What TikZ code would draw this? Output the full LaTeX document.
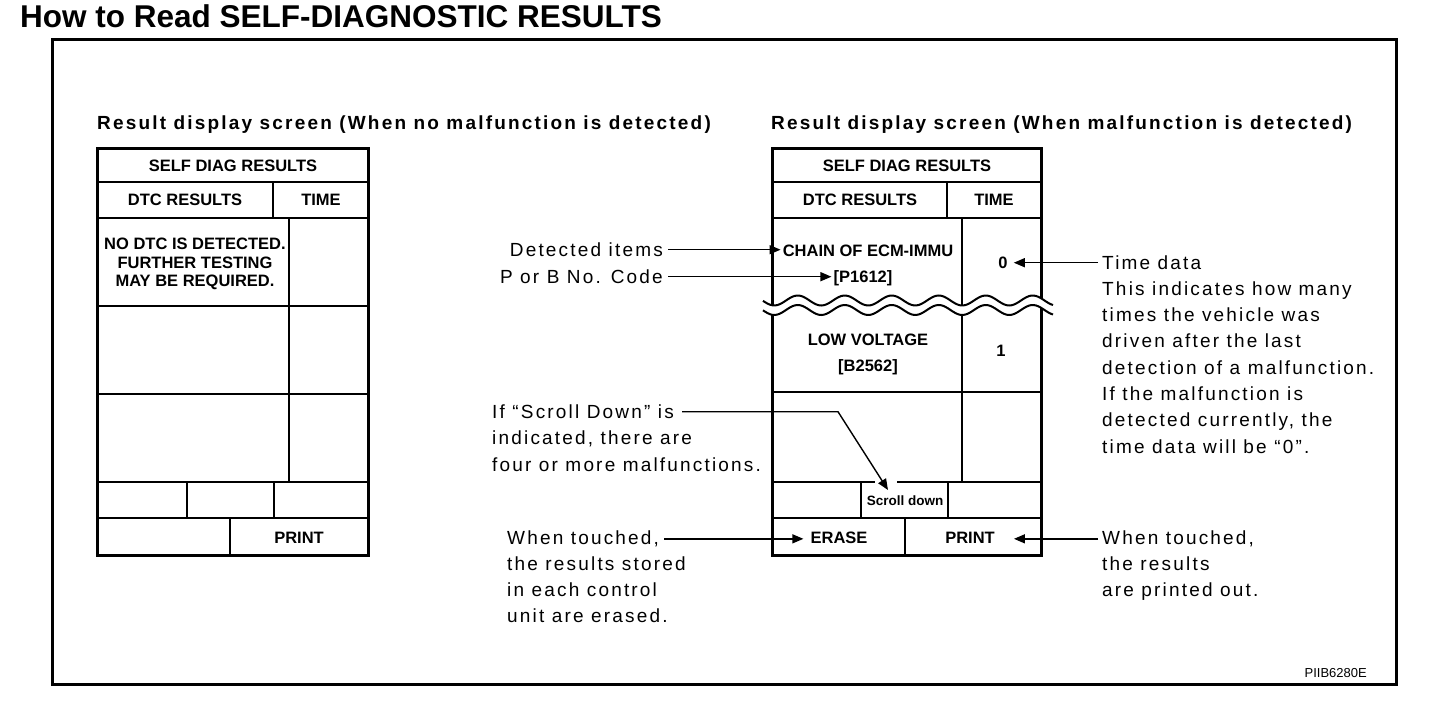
\documentclass[tikz,border=0pt]{standalone}
\usepackage{fontspec}
\setmainfont{Liberation Sans}
\newfontfamily\bodyf[LetterSpace=11.5]{Liberation Sans}
\usetikzlibrary{arrows.meta,calc}
\begin{document}
\begin{tikzpicture}[x=1pt,y=-1pt,
  body/.style={font=\bodyf\fontsize{19}{22}\selectfont, inner sep=0pt},
  capt/.style={font=\bodyf\bfseries\fontsize{19}{22}\selectfont, inner sep=0pt, anchor=base west},
  scr/.style={font=\bfseries\fontsize{16.5}{20}\selectfont, inner sep=0pt, anchor=base},
  frameline/.style={line width=3pt},
  cell/.style={line width=1.6pt},
  conn/.style={line width=1.4pt},
  tip/.style={-{Triangle[length=11pt,width=9pt]}}
]
\useasboundingbox (0,0) rectangle (1440,708);
\fill[white] (0,0) rectangle (1440,708);

% title and frame
\node[anchor=base west, font=\bfseries\fontsize{31.5}{34}\selectfont, inner sep=0pt] (title) at (20,27.5) {How to Read SELF-DIAGNOSTIC RESULTS};
\draw[frameline] (52,40) rectangle (1396,684);

% captions
\node[capt] (capL) at (97,129.5) {Result display screen (When no malfunction is detected)};
\node[capt] (capR) at (771,129.5) {Result display screen (When malfunction is detected)};

% left screen
\draw[frameline] (97,149) rectangle (368,555);
\draw[cell] (97,182) -- (368,182) (97,218) -- (368,218) (273,182) -- (273,218)
  (289,218) -- (289,482) (97,306) -- (368,306) (97,394) -- (368,394)
  (97,482) -- (368,482) (97,518) -- (368,518) (187,482) -- (187,518)
  (274,482) -- (274,518) (230,518) -- (230,555);
\node[scr] (lself) at (233,172) {SELF DIAG RESULTS};
\node[scr] (ldtc) at (185,206) {DTC RESULTS};
\node[scr] (ltime) at (321,206) {TIME};
\node[scr] (lno1) at (195,250) {NO DTC IS DETECTED.};
\node[scr] (lno2) at (195,268.5) {FURTHER TESTING};
\node[scr] (lno3) at (195,287) {MAY BE REQUIRED.};
\node[scr] (lprint) at (299,543) {PRINT};

% right screen
\draw[frameline] (772,149) rectangle (1041,555);
\draw[cell] (772,182) -- (1041,182) (772,218) -- (1041,218) (947,182) -- (947,218)
  (962,218) -- (962,482) (772,392) -- (1041,392)
  (772,482) -- (1041,482) (772,518) -- (1041,518) (861,482) -- (861,518)
  (948,482) -- (948,518) (905,518) -- (905,555);
% break marks
\fill[white] plot[domain=0:290, samples=120] (763+\x, {300.5-5*sin(7.6596*(\x-23))})
  -- plot[domain=290:0, samples=120] (763+\x, {310-5*sin(7.6596*(\x-23))}) -- cycle;
\draw[line width=2pt] plot[domain=0:290, samples=120] (763+\x, {300.5-5*sin(7.6596*(\x-23))});
\draw[line width=2pt] plot[domain=0:290, samples=120] (763+\x, {310-5*sin(7.6596*(\x-23))});

\node[scr] (rself) at (907,172) {SELF DIAG RESULTS};
\node[scr] (rdtc) at (860,206) {DTC RESULTS};
\node[scr] (rtime) at (994,206) {TIME};
\node[scr] (chain) at (868,257) {CHAIN OF ECM-IMMU};
\node[scr] (pcode) at (863,283) {[P1612]};
\node[scr] (zero) at (1003,269) {0};
\node[scr] (lowv) at (868,346) {LOW VOLTAGE};
\node[scr] (bcode) at (868,372) {[B2562]};
\node[scr] (one) at (1001,357) {1};
\node[scr, font=\bfseries\fontsize{13.5}{15}\selectfont] (scrl) at (905,505) {Scroll down};
\node[scr] (erase) at (839,543) {ERASE};
\node[scr] (rprint) at (970,543) {PRINT};

% explanation texts
\node[body, anchor=base east] (det) at (663,256.5) {Detected items};
\node[body, anchor=base east] (pob) at (663,283.5) {P or B No. Code};
\node[body, anchor=base west] (sd1) at (492,418.5) {If “Scroll Down” is};
\node[body, anchor=base west] (sd2) at (492,444.5) {indicated, there are};
\node[body, anchor=base west] (sd3) at (492,471) {four or more malfunctions.};
\node[body, anchor=base west] (er1) at (507,544.5) {When touched,};
\node[body, anchor=base west] (er2) at (507,570.5) {the results stored};
\node[body, anchor=base west] (er3) at (507,596.5) {in each control};
\node[body, anchor=base west] (er4) at (507,622.5) {unit are erased.};
\node[body, anchor=base west] (pr1) at (1102,544.5) {When touched,};
\node[body, anchor=base west] (pr2) at (1102,570.5) {the results};
\node[body, anchor=base west] (pr3) at (1102,596.5) {are printed out.};
\node[body, anchor=base west] (td1) at (1102,269.5) {Time data};
\node[body, anchor=base west] (td2) at (1102,295.5) {This indicates how many};
\node[body, anchor=base west] (td3) at (1102,321.5) {times the vehicle was};
\node[body, anchor=base west] (td4) at (1102,347.5) {driven after the last};
\node[body, anchor=base west] (td5) at (1102,374) {detection of a malfunction.};
\node[body, anchor=base west] (td6) at (1102,400.5) {If the malfunction is};
\node[body, anchor=base west] (td7) at (1102,426.5) {detected currently, the};
\node[body, anchor=base west] (td8) at (1102,453) {time data will be “0”.};

\node[anchor=base east, font=\fontsize{13}{15}\selectfont, inner sep=0pt] (code) at (1367,677.5) {PIIB6280E};

% connectors
\draw[conn,tip] ($(det.east)+(5,0)$) -- ($(chain.west |- det.east)+(-2,0)$);
\draw[conn,tip] ($(pob.east)+(5,0)$) -- ($(pcode.west |- pob.east)+(-2,0)$);
\draw[conn,tip] ($(td1.west)+(-4,0)$) -- ($(zero.east |- td1.west)+(6,0)$);
\draw[white, line width=4pt] (875,482) -- (897,482);
\coordinate (scrbend) at (838,412);
\coordinate (scrtip) at (888,490);
\draw[conn,tip] ($(sd1.east)+(8,0)$) -- (scrbend |- sd1.east) -- (scrtip);
\draw[conn,tip] ($(er1.east)+(5,0)$) -- ($(erase.west |- er1.east)+(-7,0)$);
\draw[conn,tip] ($(pr1.west)+(-4,0)$) -- ($(rprint.east |- pr1.west)+(19,0)$);
\end{tikzpicture}
\end{document}
